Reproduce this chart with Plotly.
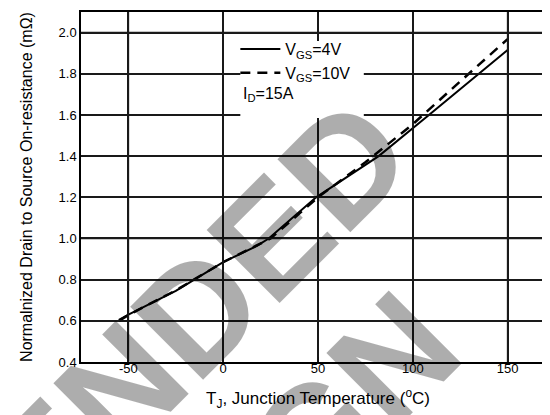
import plotly.graph_objects as go

# ---- data ----
temp_4v = [-55, -50, -25, 0, 18, 24, 49, 82, 108.5, 135, 150]
rds_4v = [0.605, 0.63, 0.745, 0.885, 0.965, 1.0, 1.2, 1.4, 1.6, 1.8, 1.915]
temp_10v = [-55, -50, -25, 0, 25, 50, 75, 100, 125, 150]
rds_10v = [0.600, 0.628, 0.748, 0.885, 1.0, 1.2, 1.37, 1.555, 1.763, 1.968]

x_tickvals = [-50, 0, 50, 100, 150]
x_ticktext = ["-50", "0", "50", "100", "150"]
x_minor = [-75, -25, 25, 75, 125, 175]
y_tickvals = [0.4, 0.6, 0.8, 1.0, 1.2, 1.4, 1.6, 1.8, 2.0]
y_ticktext = ["0.4", "0.6", "0.8", "1.0", "1.2", "1.4", "1.6", "1.8", "2.0"]
y_minor = [0.5, 0.7, 0.9, 1.1, 1.3, 1.5, 1.7, 1.9, 2.1]

X_RANGE = [-75, 175]
Y_RANGE = [0.4, 2.1]

FONT = "Liberation Sans, Arial, sans-serif"
GRID = "#1a1a1a"

fig = go.Figure()
fig.add_trace(go.Scatter(x=temp_4v, y=rds_4v, mode="lines",
                         name="V<sub>GS</sub>=4V",
                         line=dict(color="black", width=2)))
fig.add_trace(go.Scatter(x=temp_10v, y=rds_10v, mode="lines",
                         name="V<sub>GS</sub>=10V",
                         line=dict(color="black", width=2.5, dash="10px,7px")))

fig.update_layout(
    xaxis=dict(
        range=X_RANGE, tickmode="array", tickvals=x_tickvals, ticktext=x_ticktext,
        showline=True, linecolor="black", linewidth=1.5, mirror="allticks",
        showgrid=True, gridcolor=GRID, gridwidth=1.5, zeroline=False,
        ticks="inside", ticklen=5, tickcolor="black", ticklabelstandoff=-6,
        tickfont=dict(family=FONT, size=13, color="black"),
        title=dict(text="T<sub>J</sub>, Junction Temperature (<sup>o</sup>C)",
                   font=dict(family=FONT, size=17, color="black"), standoff=17),
    ),
    yaxis=dict(
        range=Y_RANGE, tickmode="array", tickvals=y_tickvals, ticktext=y_ticktext,
        showline=True, linecolor="black", linewidth=1.5, mirror="allticks",
        showgrid=True, gridcolor=GRID, gridwidth=1.5, zeroline=False,
        ticks="inside", ticklen=5, tickcolor="black",
        tickfont=dict(family=FONT, size=13, color="black"),
        title=dict(text="Normalnized Drain to Source On-resistance (m\u03a9)",
                   font=dict(family=FONT, size=16, color="black"), standoff=22),
    ),
    # minor ticks on overlay axes
    xaxis2=dict(overlaying="x", anchor="y", side="bottom", range=X_RANGE,
                tickmode="array", tickvals=x_minor, showticklabels=False,
                ticks="inside", ticklen=4, tickcolor="black", mirror="allticks",
                showgrid=False, zeroline=False, showline=False),
    yaxis2=dict(overlaying="y", anchor="x", side="left", range=Y_RANGE,
                tickmode="array", tickvals=y_minor, showticklabels=False,
                ticks="inside", ticklen=4, tickcolor="black", mirror="allticks",
                showgrid=False, zeroline=False, showline=False),
)

# grid lines at the major tick values (data coordinates)
for xv in x_tickvals:
    fig.add_shape(type="line", xref="x", yref="paper", x0=xv, x1=xv, y0=0, y1=1,
                  line=dict(color=GRID, width=1.5), layer="above")
for yv in y_tickvals[1:]:
    fig.add_shape(type="line", xref="paper", yref="y", x0=0, x1=1, y0=yv, y1=yv,
                  line=dict(color=GRID, width=1.5), layer="above")

# white box behind the legend and the I_D note (covers the grid there)
fig.add_shape(type="rect", xref="paper", yref="paper",
              x0=(233 - 73) / 476, x1=(357 - 73) / 476,
              y0=(354 - 110) / 350, y1=(354 - 33) / 350,
              fillcolor="white", line=dict(width=0), layer="above")

# watermark
wm = "rgba(0,0,0,0.32)"
fig.add_annotation(text="<b>NOT RECOMMENDED</b>", xref="paper", yref="paper",
                   x=(-180 - 73) / 476, y=(354 - 672) / 350, showarrow=False,
                   xanchor="center", yanchor="middle",
                   textangle=-45, font=dict(family=FONT, size=150, color=wm))
fig.add_annotation(text="<b>FOR NEW DESIGN</b>", xref="paper", yref="paper",
                   x=(-45 - 73) / 476, y=(354 - 780) / 350, showarrow=False,
                   xanchor="center", yanchor="middle",
                   textangle=-45, font=dict(family=FONT, size=150, color=wm))

fig.add_annotation(text="I<sub>D</sub>=15A", xref="paper", yref="paper",
                   x=(234 - 73) / 476, y=(354 - 87) / 350, xanchor="left",
                   yanchor="middle", showarrow=False,
                   font=dict(family=FONT, size=16, color="black"))

fig.update_layout(
    width=550, height=415,
    margin=dict(l=73, r=1, t=4, b=61),
    paper_bgcolor="white", plot_bgcolor="rgba(0,0,0,0)",
    showlegend=True,
    legend=dict(x=(228 - 73) / 476, y=(354 - 24) / 350, xanchor="left",
                yanchor="top", bgcolor="rgba(0,0,0,0)", borderwidth=0,
                font=dict(family=FONT, size=16, color="black"),
                itemwidth=40, tracegroupgap=0),
)

fig.write_html("out.html")
